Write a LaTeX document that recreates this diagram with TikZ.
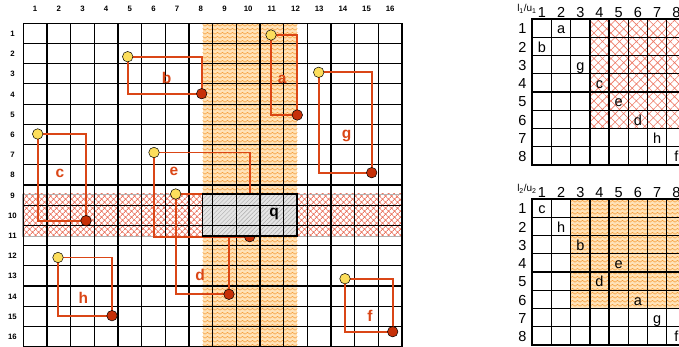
\documentclass[tikz,border=0pt]{standalone}
\usepackage{fontspec}
\setmainfont{Liberation Sans}
\usetikzlibrary{patterns,patterns.meta}
\definecolor{boxline}{RGB}{218,70,22}
\definecolor{dotyellow}{RGB}{252,222,92}
\definecolor{dotred}{RGB}{198,48,8}
\definecolor{bandorange}{RGB}{255,226,184}
\definecolor{wave}{RGB}{246,160,62}
\definecolor{bandred}{RGB}{234,118,98}
\definecolor{hatchred}{RGB}{238,120,100}
\pgfdeclarepatternformonly{zigzag}{\pgfpoint{-0.5pt}{-0.5pt}}{\pgfpoint{5.5pt}{4.5pt}}{\pgfpoint{5pt}{4pt}}{%
  \pgfsetlinewidth{0.55pt}
  \pgfpathmoveto{\pgfpoint{0pt}{0.8pt}}
  \pgfpathlineto{\pgfpoint{2.5pt}{2.6pt}}
  \pgfpathlineto{\pgfpoint{5pt}{0.8pt}}
  \pgfusepath{stroke}}

\begin{document}
\begin{tikzpicture}[x=1pt,y=-1pt,
  cellline/.style={black,line width=1.1pt},
  matline/.style={black,line width=1.3pt},
  objbox/.style={draw=boxline,line width=1.9pt},
  lowdot/.style={circle,draw=black,line width=0.5pt,fill=dotyellow,minimum size=10.5pt,inner sep=0pt},
  highdot/.style={lowdot,fill=dotred},
  objlabel/.style={text=boxline,font=\fontsize{15.5}{16}\selectfont\bfseries,anchor=base},
  axislabel/.style={font=\fontsize{7.8}{9}\selectfont\bfseries,anchor=base},
  matlabel/.style={font=\fontsize{14.5}{16}\selectfont,anchor=base,inner sep=0pt}]
\clip (0,0) rectangle (679,347);

% search bands
\fill[bandorange] (202.5,23.3) rectangle (297.3,346.7);
\fill[pattern=zigzag,pattern color=wave] (202.5,23.3) rectangle (297.3,346.7);
\draw[gray!60,line width=0.5pt,pattern={Hatch[angle=45,distance=4pt,line width=0.9pt]},pattern color=bandred] (22.5,194) rectangle (402.3,236);

% grid 16x16
\foreach \i in {0,...,16}{
  \draw[cellline] ({23.3+23.67*\i},23.3) -- ({23.3+23.67*\i},346.7);
  \draw[cellline] (23.3,{23.3+20.21*\i}) -- (402.1,{23.3+20.21*\i});
}
\foreach \i in {1,...,16}{
  \node[axislabel] (col\i) at ({23.3+23.67*(\i-0.5)},12) {\i};
  \node[axislabel] (row\i) at (12.5,{23.3+20.21*(\i-0.5)+3}) {\i};
}

% objects
\foreach \n/\xa/\ya/\xb/\yb in {a/271/35/297.3/115, b/127.7/56.7/201.7/93.7, c/37.7/134/86/220.7, d/175.7/194/229/294.3,
  e/154/152.5/249.7/236.7, f/345/278.7/392.7/331.7, g/318.7/72.3/371.7/172.7, h/58/257.5/112/315.7}{
  \coordinate (\n lo) at (\xa,\ya);
  \coordinate (\n hi) at (\xb,\yb);
  \draw[objbox] (\n lo) rectangle (\n hi);
}
\foreach \n in {a,...,h}{
  \node[lowdot] (\n min) at (\n lo) {};
  \node[highdot] (\n max) at (\n hi) {};
}
\foreach \n/\x/\y in {a/282.3/84, b/166.7/84, c/60/178, d/200/280, e/174/176, f/370/321.7, g/346.7/139, h/83.3/303.3}
  \node[objlabel] (lab\n) at (\x,\y) {\n};

% query window
\begin{scope}
  \clip (202.5,194) rectangle (296.7,236);
  \fill[gray!20] (202.5,194) rectangle (296.7,236);
  \fill[pattern={Lines[angle=45,distance=3pt,line width=0.45pt]},pattern color=gray!65] (202.5,194) rectangle (296.7,236);
  \foreach \i in {0,...,16}{
    \draw[cellline] ({23.3+23.67*\i},23.3) -- ({23.3+23.67*\i},346.7);
    \draw[cellline] (23.3,{23.3+20.21*\i}) -- (402.1,{23.3+20.21*\i});
  }
\end{scope}
\draw[line width=1.8pt] (202.5,194) rectangle (296.7,236);
\node[objlabel,text=black] (labq) at (274,216) {q};

% l1/u1 matrix
\begin{scope}[shift={(532.3,19)}]
  \fill[white] (57.6,0) rectangle (153.6,109.5);
  \fill[pattern={Hatch[angle=45,distance=6pt,line width=0.6pt]},pattern color=hatchred] (57.6,0) rectangle (153.6,109.5);
  \foreach \i in {0,...,8}{
    \draw[matline] ({19.2*\i},0) -- ({19.2*\i},146);
    \draw[matline] (0,{18.25*\i}) -- (153.6,{18.25*\i});
  }
  \draw[line width=1.8pt] (0,0) rectangle (153.6,146);
  \foreach \i in {1,...,8}{
    \node[matlabel] (tc\i) at ({19.2*\i-9.6},-1.3) {\i};
    \node[matlabel] (tr\i) at (-10,{18.25*\i-3.4}) {\i};
  }
  \node[font=\fontsize{10}{12}\selectfont,anchor=base east,inner sep=0pt] (tcorner) at (4.5,-7) {l\textsubscript{1}/u\textsubscript{1}};
  \foreach \r/\c/\t in {1/2/a, 2/1/b, 3/3/g, 4/4/c, 5/5/e, 6/6/d, 7/7/h, 8/8/f}
    \node[matlabel] (t\t) at ({19.2*\c-9.6},{18.25*\r-3.4}) {\t};
\end{scope}

% l2/u2 matrix
\begin{scope}[shift={(532.3,199)}]
  \fill[bandorange] (38.4,0) rectangle (153.6,109.5);
  \fill[pattern=zigzag,pattern color=wave] (38.4,0) rectangle (153.6,109.5);
  \foreach \i in {0,...,8}{
    \draw[matline] ({19.2*\i},0) -- ({19.2*\i},146);
    \draw[matline] (0,{18.25*\i}) -- (153.6,{18.25*\i});
  }
  \draw[line width=1.8pt] (0,0) rectangle (153.6,146);
  \foreach \i in {1,...,8}{
    \node[matlabel] (bc\i) at ({19.2*\i-9.6},-1.3) {\i};
    \node[matlabel] (br\i) at (-10,{18.25*\i-3.4}) {\i};
  }
  \node[font=\fontsize{10}{12}\selectfont,anchor=base east,inner sep=0pt] (bcorner) at (4.5,-7) {l\textsubscript{2}/u\textsubscript{2}};
  \foreach \r/\c/\t in {1/1/c, 2/2/h, 3/3/b, 4/5/e, 5/4/d, 6/6/a, 7/7/g, 8/8/f}
    \node[matlabel] (b\t) at ({19.2*\c-9.6},{18.25*\r-3.4}) {\t};
\end{scope}
\end{tikzpicture}
\end{document}
